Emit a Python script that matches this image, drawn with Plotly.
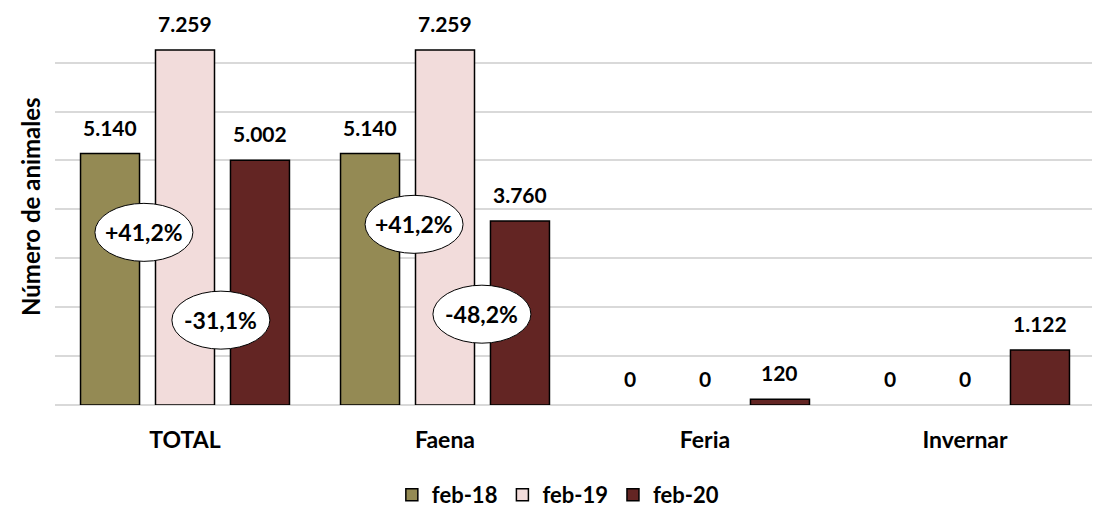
import plotly.graph_objects as go

categories = ["TOTAL", "Faena", "Feria", "Invernar"]
series_names = ["feb-18", "feb-19", "feb-20"]
feb18 = [5140, 5140, 0, 0]
feb19 = [7259, 7259, 0, 0]
feb20 = [5002, 3760, 120, 1122]
colors = ["#948A54", "#F2DCDB", "#632523"]

# percent change bubbles: (category index, offset within category, y value, text)
pct_labels = [
    (0, -0.158, 3530, "+41,2%"),
    (0, 0.138, 1735, "-31,1%"),
    (1, -0.119, 3694, "+41,2%"),
    (1, 0.142, 1857, "-48,2%"),
]

FONT = "Lato"
bargap = 0.135
bargroupgap = 0.213
slot = (1 - bargap) / 3
offsets = [-slot, 0, slot]

# the page body adds an 8px offset; margins compensate for it
W, H = 1100, 507
ML, MR, MT, MB = 47, 13, 5, 110
PW, PH = W - ML - MR, H - MT - MB

fig = go.Figure()
for name, vals, col in zip(series_names, [feb18, feb19, feb20], colors):
    fig.add_trace(go.Bar(
        x=list(range(len(categories))), y=vals, name=name,
        marker=dict(color=col, line=dict(color="black",
                                         width=[1.5 if v > 0 else 0 for v in vals])),
    ))

annotations = []
for si, vals in enumerate([feb18, feb19, feb20]):
    for ci, v in enumerate(vals):
        annotations.append(dict(
            x=ci + offsets[si], y=v, xref="x", yref="y",
            text=f"{v:,}".replace(",", "."), showarrow=False,
            yanchor="bottom", yshift=12,
            font=dict(family=FONT, size=21, color="black", weight="bold"),
        ))

shapes = []
for ci, off, yv, txt in pct_labels:
    xc = ci + off
    shapes.append(dict(
        type="circle", xref="x", yref="y",
        xsizemode="pixel", ysizemode="pixel",
        xanchor=xc, yanchor=yv,
        x0=-49, x1=49, y0=-29, y1=29,
        fillcolor="white", line=dict(color="black", width=1), layer="above",
    ))
    annotations.append(dict(
        x=xc, y=yv, xref="x", yref="y", text=txt, showarrow=False,
        font=dict(family=FONT, size=23, color="black", weight="bold"),
    ))

annotations.append(dict(
    x=(22 - ML) / PW, y=(PH + MT - 199) / PH, xref="paper", yref="paper",
    text="Número de animales", showarrow=False, textangle=-90,
    xanchor="center", yanchor="middle",
    font=dict(family=FONT, size=24, color="black", weight="bold"),
))

fig.update_layout(
    width=W, height=H,
    margin=dict(l=ML, r=MR, t=MT, b=MB, autoexpand=False),
    plot_bgcolor="white", paper_bgcolor="white",
    barmode="group", bargap=bargap, bargroupgap=bargroupgap,
    font=dict(family=FONT, color="black"),
    xaxis=dict(
        tickmode="array", tickvals=list(range(len(categories))), ticktext=categories,
        range=[-0.5, 3.5], showgrid=False, zeroline=False, showline=False,
        tickfont=dict(family=FONT, size=23, weight="bold", color="black"),
        ticks="", ticklabelstandoff=19, automargin=False,
    ),
    yaxis=dict(
        range=[0, 8015], tickmode="array", tickvals=list(range(0, 8001, 1000)),
        showticklabels=False, automargin=False,
        showgrid=True, gridcolor="#D9D9D9", gridwidth=2,
        zeroline=True, zerolinecolor="#D9D9D9", zerolinewidth=2, showline=False,
    ),
    legend=dict(
        orientation="h", x=0.4835, xanchor="center", y=(PH + MT - 487) / PH,
        yanchor="middle",
        font=dict(family=FONT, size=22, weight="bold", color="black"),
        itemwidth=30, traceorder="normal",
    ),
    showlegend=True,
    shapes=shapes,
    annotations=annotations,
)

fig.write_html("out.html")
